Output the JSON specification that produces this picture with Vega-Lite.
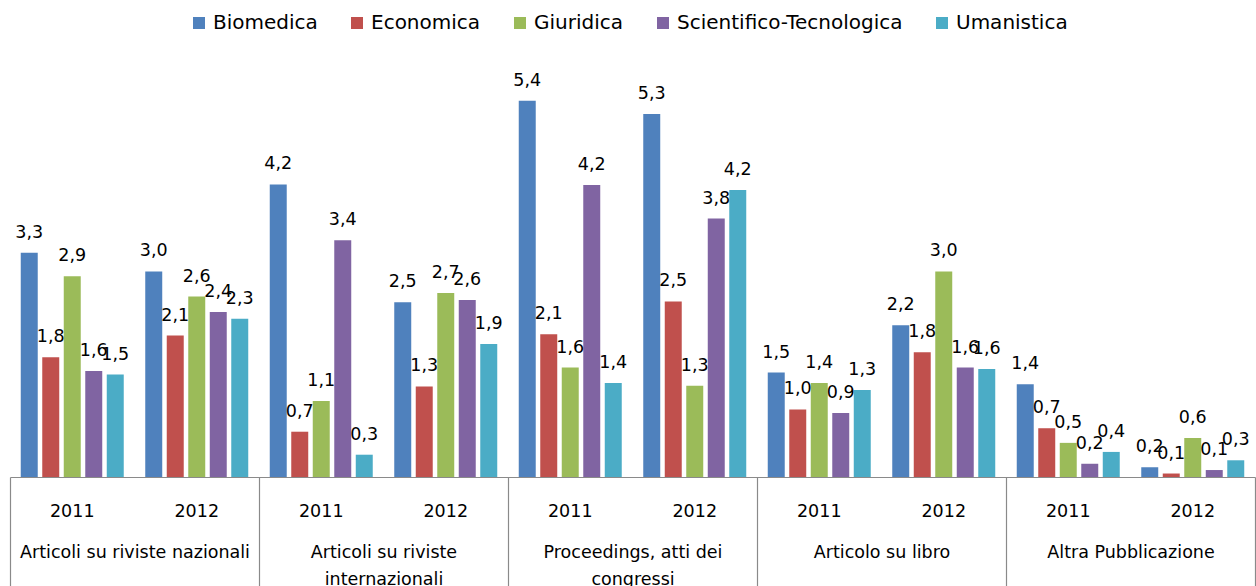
{
  "$schema": "https://vega.github.io/schema/vega-lite/v6.json",
  "autosize": "none",
  "padding": {"left": 10, "top": 59, "right": 1, "bottom": 109},
  "width": 1245,
  "height": 418,
  "datasets": {
    "bars": [
      {"cat": "Articoli su riviste nazionali", "g": "Articoli su riviste nazionali|2011", "disc": "Biomedica", "v": 3.22, "lab": "3,3"},
      {"cat": "Articoli su riviste nazionali", "g": "Articoli su riviste nazionali|2011", "disc": "Economica", "v": 1.72, "lab": "1,8"},
      {"cat": "Articoli su riviste nazionali", "g": "Articoli su riviste nazionali|2011", "disc": "Giuridica", "v": 2.88, "lab": "2,9"},
      {"cat": "Articoli su riviste nazionali", "g": "Articoli su riviste nazionali|2011", "disc": "Scientifico-Tecnologica", "v": 1.52, "lab": "1,6"},
      {"cat": "Articoli su riviste nazionali", "g": "Articoli su riviste nazionali|2011", "disc": "Umanistica", "v": 1.47, "lab": "1,5"},
      {"cat": "Articoli su riviste nazionali", "g": "Articoli su riviste nazionali|2012", "disc": "Biomedica", "v": 2.95, "lab": "3,0"},
      {"cat": "Articoli su riviste nazionali", "g": "Articoli su riviste nazionali|2012", "disc": "Economica", "v": 2.03, "lab": "2,1"},
      {"cat": "Articoli su riviste nazionali", "g": "Articoli su riviste nazionali|2012", "disc": "Giuridica", "v": 2.59, "lab": "2,6"},
      {"cat": "Articoli su riviste nazionali", "g": "Articoli su riviste nazionali|2012", "disc": "Scientifico-Tecnologica", "v": 2.37, "lab": "2,4"},
      {"cat": "Articoli su riviste nazionali", "g": "Articoli su riviste nazionali|2012", "disc": "Umanistica", "v": 2.27, "lab": "2,3"},
      {"cat": "Articoli su riviste internazionali", "g": "Articoli su riviste internazionali|2011", "disc": "Biomedica", "v": 4.2, "lab": "4,2"},
      {"cat": "Articoli su riviste internazionali", "g": "Articoli su riviste internazionali|2011", "disc": "Economica", "v": 0.65, "lab": "0,7"},
      {"cat": "Articoli su riviste internazionali", "g": "Articoli su riviste internazionali|2011", "disc": "Giuridica", "v": 1.09, "lab": "1,1"},
      {"cat": "Articoli su riviste internazionali", "g": "Articoli su riviste internazionali|2011", "disc": "Scientifico-Tecnologica", "v": 3.4, "lab": "3,4"},
      {"cat": "Articoli su riviste internazionali", "g": "Articoli su riviste internazionali|2011", "disc": "Umanistica", "v": 0.32, "lab": "0,3"},
      {"cat": "Articoli su riviste internazionali", "g": "Articoli su riviste internazionali|2012", "disc": "Biomedica", "v": 2.51, "lab": "2,5"},
      {"cat": "Articoli su riviste internazionali", "g": "Articoli su riviste internazionali|2012", "disc": "Economica", "v": 1.3, "lab": "1,3"},
      {"cat": "Articoli su riviste internazionali", "g": "Articoli su riviste internazionali|2012", "disc": "Giuridica", "v": 2.64, "lab": "2,7"},
      {"cat": "Articoli su riviste internazionali", "g": "Articoli su riviste internazionali|2012", "disc": "Scientifico-Tecnologica", "v": 2.54, "lab": "2,6"},
      {"cat": "Articoli su riviste internazionali", "g": "Articoli su riviste internazionali|2012", "disc": "Umanistica", "v": 1.91, "lab": "1,9"},
      {"cat": "Proceedings, atti dei congressi", "g": "Proceedings, atti dei congressi|2011", "disc": "Biomedica", "v": 5.4, "lab": "5,4"},
      {"cat": "Proceedings, atti dei congressi", "g": "Proceedings, atti dei congressi|2011", "disc": "Economica", "v": 2.05, "lab": "2,1"},
      {"cat": "Proceedings, atti dei congressi", "g": "Proceedings, atti dei congressi|2011", "disc": "Giuridica", "v": 1.57, "lab": "1,6"},
      {"cat": "Proceedings, atti dei congressi", "g": "Proceedings, atti dei congressi|2011", "disc": "Scientifico-Tecnologica", "v": 4.19, "lab": "4,2"},
      {"cat": "Proceedings, atti dei congressi", "g": "Proceedings, atti dei congressi|2011", "disc": "Umanistica", "v": 1.35, "lab": "1,4"},
      {"cat": "Proceedings, atti dei congressi", "g": "Proceedings, atti dei congressi|2012", "disc": "Biomedica", "v": 5.21, "lab": "5,3"},
      {"cat": "Proceedings, atti dei congressi", "g": "Proceedings, atti dei congressi|2012", "disc": "Economica", "v": 2.52, "lab": "2,5"},
      {"cat": "Proceedings, atti dei congressi", "g": "Proceedings, atti dei congressi|2012", "disc": "Giuridica", "v": 1.31, "lab": "1,3"},
      {"cat": "Proceedings, atti dei congressi", "g": "Proceedings, atti dei congressi|2012", "disc": "Scientifico-Tecnologica", "v": 3.71, "lab": "3,8"},
      {"cat": "Proceedings, atti dei congressi", "g": "Proceedings, atti dei congressi|2012", "disc": "Umanistica", "v": 4.12, "lab": "4,2"},
      {"cat": "Articolo su libro", "g": "Articolo su libro|2011", "disc": "Biomedica", "v": 1.5, "lab": "1,5"},
      {"cat": "Articolo su libro", "g": "Articolo su libro|2011", "disc": "Economica", "v": 0.97, "lab": "1,0"},
      {"cat": "Articolo su libro", "g": "Articolo su libro|2011", "disc": "Giuridica", "v": 1.35, "lab": "1,4"},
      {"cat": "Articolo su libro", "g": "Articolo su libro|2011", "disc": "Scientifico-Tecnologica", "v": 0.92, "lab": "0,9"},
      {"cat": "Articolo su libro", "g": "Articolo su libro|2011", "disc": "Umanistica", "v": 1.25, "lab": "1,3"},
      {"cat": "Articolo su libro", "g": "Articolo su libro|2012", "disc": "Biomedica", "v": 2.18, "lab": "2,2"},
      {"cat": "Articolo su libro", "g": "Articolo su libro|2012", "disc": "Economica", "v": 1.79, "lab": "1,8"},
      {"cat": "Articolo su libro", "g": "Articolo su libro|2012", "disc": "Giuridica", "v": 2.95, "lab": "3,0"},
      {"cat": "Articolo su libro", "g": "Articolo su libro|2012", "disc": "Scientifico-Tecnologica", "v": 1.57, "lab": "1,6"},
      {"cat": "Articolo su libro", "g": "Articolo su libro|2012", "disc": "Umanistica", "v": 1.55, "lab": "1,6"},
      {"cat": "Altra Pubblicazione", "g": "Altra Pubblicazione|2011", "disc": "Biomedica", "v": 1.33, "lab": "1,4"},
      {"cat": "Altra Pubblicazione", "g": "Altra Pubblicazione|2011", "disc": "Economica", "v": 0.7, "lab": "0,7"},
      {"cat": "Altra Pubblicazione", "g": "Altra Pubblicazione|2011", "disc": "Giuridica", "v": 0.49, "lab": "0,5"},
      {"cat": "Altra Pubblicazione", "g": "Altra Pubblicazione|2011", "disc": "Scientifico-Tecnologica", "v": 0.19, "lab": "0,2"},
      {"cat": "Altra Pubblicazione", "g": "Altra Pubblicazione|2011", "disc": "Umanistica", "v": 0.36, "lab": "0,4"},
      {"cat": "Altra Pubblicazione", "g": "Altra Pubblicazione|2012", "disc": "Biomedica", "v": 0.14, "lab": "0,2"},
      {"cat": "Altra Pubblicazione", "g": "Altra Pubblicazione|2012", "disc": "Economica", "v": 0.05, "lab": "0,1"},
      {"cat": "Altra Pubblicazione", "g": "Altra Pubblicazione|2012", "disc": "Giuridica", "v": 0.56, "lab": "0,6"},
      {"cat": "Altra Pubblicazione", "g": "Altra Pubblicazione|2012", "disc": "Scientifico-Tecnologica", "v": 0.1, "lab": "0,1"},
      {"cat": "Altra Pubblicazione", "g": "Altra Pubblicazione|2012", "disc": "Umanistica", "v": 0.24, "lab": "0,3"}
    ],
    "cats": [
      {"cat": "Articoli su riviste nazionali"},
      {"cat": "Articoli su riviste internazionali"},
      {"cat": "Proceedings, atti dei congressi"},
      {"cat": "Articolo su libro"},
      {"cat": "Altra Pubblicazione"}
    ]
  },
  "layer": [
    {
      "data": {"name": "bars"},
      "encoding": {
        "x": {
          "field": "g", "type": "nominal", "sort": null,
          "scale": {"paddingInner": 0, "paddingOuter": 0},
          "axis": {
            "orient": "bottom", "title": null, "labelAngle": 0,
            "labelExpr": "slice(datum.label, -4)",
            "ticks": false, "domain": true, "domainColor": "#8a8a8a", "domainWidth": 1.2,
            "labelPadding": 25, "labelFont": "DejaVu Sans", "labelFontSize": 17.5, "labelColor": "#000000"
          }
        },
        "xOffset": {"field": "disc", "type": "nominal", "scale": {"paddingInner": 0.21, "paddingOuter": 0.5}},
        "y": {"field": "v", "type": "quantitative", "scale": {"domain": [0, 6], "nice": false}, "axis": null}
      },
      "layer": [
        {
          "mark": {"type": "bar"},
          "encoding": {
            "color": {
              "field": "disc", "type": "nominal",
              "scale": {
                "domain": ["Biomedica", "Economica", "Giuridica", "Scientifico-Tecnologica", "Umanistica"],
                "range": ["#4F81BD", "#C0504D", "#9BBB59", "#8064A2", "#4BACC6"]
              },
              "legend": {
                "title": null, "orient": "none", "direction": "horizontal",
                "legendX": 179, "legendY": -46,
                "symbolType": "square", "symbolSize": 144, "symbolStrokeWidth": 0,
                "labelFont": "DejaVu Sans", "labelFontSize": 20, "labelColor": "#000000",
                "labelOffset": 4, "columnPadding": 29, "labelLimit": 0
              }
            }
          }
        },
        {
          "mark": {"type": "text", "baseline": "alphabetic", "dy": -15, "font": "DejaVu Sans", "fontSize": 17.5, "color": "#000000"},
          "encoding": {
            "text": {"field": "lab", "type": "nominal"}
          }
        }
      ]
    },
    {
      "data": {"name": "cats"},
      "mark": {"type": "text"},
      "encoding": {
        "x": {
          "field": "cat", "type": "nominal", "sort": null,
          "scale": {"paddingInner": 0, "paddingOuter": 0},
          "axis": {
            "orient": "bottom", "title": null, "labelAngle": 0,
            "domain": false, "ticks": true, "tickBand": "extent", "tickSize": 115,
            "tickColor": "#8a8a8a", "tickWidth": 1.2,
            "labelPadding": -48.5, "labelLineHeight": 27, "labelLimit": 0,
            "labelExpr": "datum.label == 'Articoli su riviste internazionali' ? ['Articoli su riviste', 'internazionali'] : datum.label == 'Proceedings, atti dei congressi' ? ['Proceedings, atti dei', 'congressi'] : datum.label",
            "labelFont": "DejaVu Sans", "labelFontSize": 17.5, "labelColor": "#000000"
          }
        },
        "text": {"value": ""}
      }
    }
  ],
  "resolve": {"scale": {"x": "independent"}, "axis": {"x": "independent"}},
  "config": {
    "view": {"stroke": null}
  }
}
